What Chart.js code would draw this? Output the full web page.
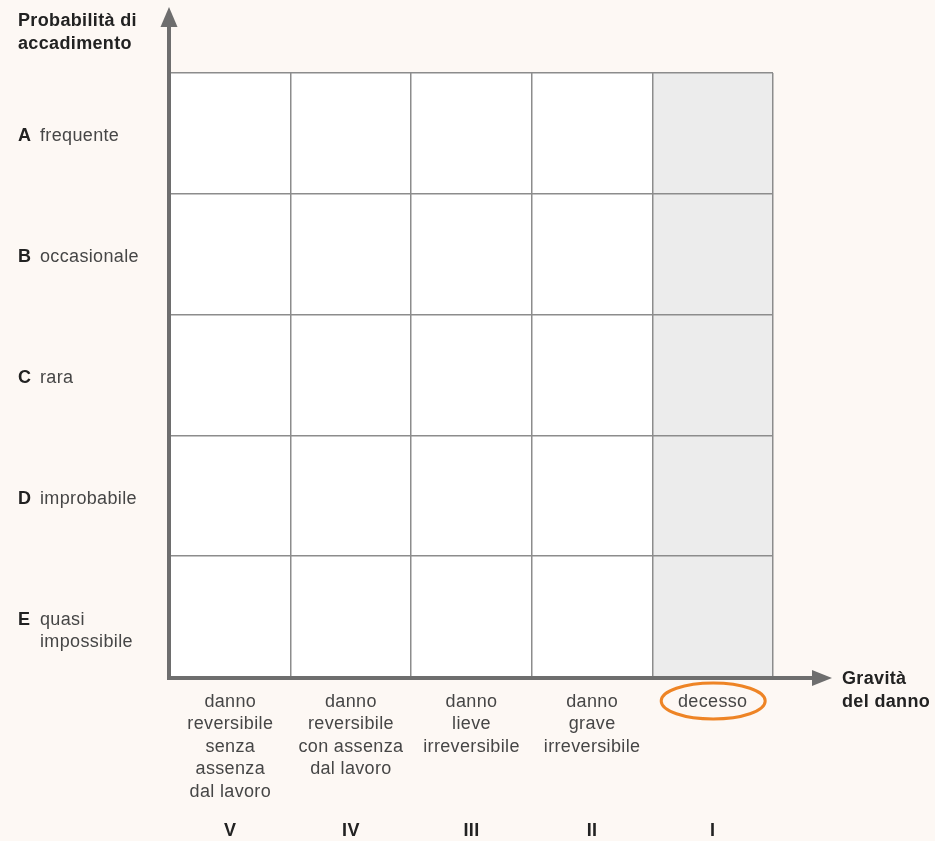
<!DOCTYPE html>
<html>
<head>
<meta charset="utf-8">
<script src="https://cdn.jsdelivr.net/npm/chart.js@4/dist/chart.umd.min.js"></script>
<style>
  html, body { margin: 0; padding: 0; background: #fdf8f4; }
  #wrap { width: 935px; height: 841px; position: relative; }
</style>
</head>
<body>
<div id="wrap"><canvas id="matrice"></canvas></div>
<script>
// colonne: gravità del danno (da V a I)
const gravita = [
    ['danno', 'reversibile', 'senza', 'assenza', 'dal lavoro'],
    ['danno', 'reversibile', 'con assenza', 'dal lavoro'],
    ['danno', 'lieve', 'irreversibile'],
    ['danno', 'grave', 'irreversibile'],
    ['decesso']
];
const classi = ['V', 'IV', 'III', 'II', 'I'];

// righe: probabilità di accadimento (dall'alto in basso)
const lettere = ['A', 'B', 'C', 'D', 'E'];
const probabilita = [['frequente'], ['occasionale'], ['rara'], ['improbabile'], ['quasi', 'impossibile']];

// colonna evidenziata (decesso)
const evidenziata = 4;
const cella = [1, 1, 1, 1, 1];

const FONT = '"Liberation Sans", Arial, Helvetica, sans-serif';

const coloriColonne = classi.map((c, i) => i === evidenziata ? '#ececec' : '#ffffff');

// un dataset per riga, impilati dal basso (E) verso l'alto (A)
const datasets = lettere.slice().reverse().map((l, i) => ({
    label: l,
    data: cella,
    backgroundColor: coloriColonne,
    borderWidth: 0,
    barPercentage: 1,
    categoryPercentage: 1
}));

const sfondo = {
    id: 'sfondo',
    beforeDraw(chart) {
        const c = chart.ctx;
        c.save();
        c.fillStyle = '#fdf8f4';
        c.fillRect(0, 0, chart.width, chart.height);
        c.restore();
    }
};

const assiEtichette = {
    id: 'assiEtichette',
    afterDraw(chart) {
        const c = chart.ctx;
        const a = chart.chartArea;
        const xs = chart.scales.x;
        const ys = chart.scales.y;
        c.save();

        // assi con frecce
        c.strokeStyle = '#6e6e6e';
        c.fillStyle = '#6e6e6e';
        c.lineWidth = 4;
        c.beginPath();
        c.moveTo(a.left - 1, a.bottom + 2);
        c.lineTo(a.left - 1, 24);
        c.moveTo(a.left - 3, a.bottom + 1);
        c.lineTo(815, a.bottom + 1);
        c.stroke();
        c.beginPath();
        c.moveTo(a.left - 1, 7);
        c.lineTo(a.left - 9.5, 27);
        c.lineTo(a.left + 7.5, 27);
        c.closePath();
        c.fill();
        c.beginPath();
        c.moveTo(832, a.bottom + 1);
        c.lineTo(812, a.bottom - 7);
        c.lineTo(812, a.bottom + 9);
        c.closePath();
        c.fill();

        c.letterSpacing = '0.35px';

        // titoli degli assi
        c.fillStyle = '#222';
        c.font = 'bold 18px ' + FONT;
        c.textBaseline = 'middle';
        c.textAlign = 'left';
        c.fillText('Probabilità di', 18, 21);
        c.fillText('accadimento', 18, 44);
        c.fillText('Gravità', 842, 679);
        c.fillText('del danno', 842, 702);

        // etichette delle righe
        lettere.forEach((l, i) => {
            const y = ys.getPixelForValue(lettere.length - i - 0.5) + 3;
            c.font = 'bold 18px ' + FONT;
            c.fillStyle = '#222';
            c.fillText(l, 18, y);
            c.font = '18px ' + FONT;
            c.fillStyle = '#464646';
            probabilita[i].forEach((t, k) => c.fillText(t, 40, y + k * 22.5));
        });

        // etichette delle colonne
        c.textAlign = 'center';
        gravita.forEach((righe, i) => {
            const x = xs.getPixelForValue(i);
            c.font = '18px ' + FONT;
            c.fillStyle = '#464646';
            righe.forEach((t, k) => c.fillText(t, x, 702 + k * 22.5));
            c.font = 'bold 18px ' + FONT;
            c.fillStyle = '#222';
            c.fillText(classi[i], x, 831);
        });

        // ellisse attorno alla colonna evidenziata
        const xe = xs.getPixelForValue(evidenziata);
        c.strokeStyle = '#ee8425';
        c.lineWidth = 3;
        c.beginPath();
        c.ellipse(xe + 0.5, 701, 52, 18, 0, 0, Math.PI * 2);
        c.stroke();

        c.restore();
    }
};

new Chart(document.getElementById('matrice'), {
    type: 'bar',
    data: { labels: classi, datasets: datasets },
    options: {
        responsive: true,
        maintainAspectRatio: false,
        animation: false,
        layout: { padding: { left: 170, right: 162, top: 73, bottom: 164 } },
        plugins: { legend: { display: false }, tooltip: { enabled: false } },
        scales: {
            x: {
                stacked: true,
                offset: true,
                ticks: { display: false },
                border: { display: false },
                grid: { offset: true, z: 1, color: '#8c8c8c', lineWidth: 1.5, drawTicks: false }
            },
            y: {
                stacked: true,
                min: 0,
                max: 5,
                ticks: { display: false, stepSize: 1 },
                border: { display: false },
                grid: { z: 1, color: '#8c8c8c', lineWidth: 1.5, drawTicks: false }
            }
        }
    },
    plugins: [sfondo, assiEtichette]
});
</script>
</body>
</html>
